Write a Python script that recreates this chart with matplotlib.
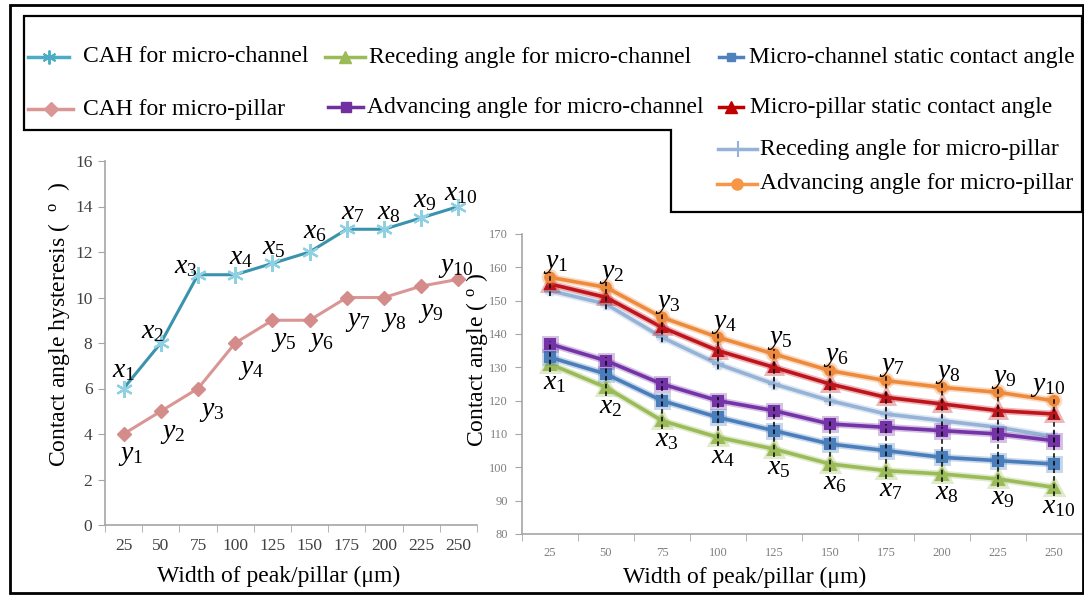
import numpy as np
import matplotlib
matplotlib.use('Agg')
import matplotlib.pyplot as plt
import matplotlib.patheffects as pe
from matplotlib.lines import Line2D
from matplotlib.patches import Polygon, Rectangle
from matplotlib.transforms import Affine2D

plt.rcParams['font.family'] = ['Liberation Serif', 'DejaVu Serif']
plt.rcParams['mathtext.fontset'] = 'custom'
plt.rcParams['mathtext.rm'] = 'Liberation Serif'
plt.rcParams['mathtext.it'] = 'Liberation Serif:italic'

widths = [25, 50, 75, 100, 125, 150, 175, 200, 225, 250]

# contact angle hysteresis (deg)
cah_channel = [6, 8, 11, 11, 11.5, 12, 13, 13, 13.5, 14]
cah_pillar = [4, 5, 6, 8, 9, 9, 10, 10, 10.5, 10.8]

# contact angles (deg)
adv_pillar = [157, 154, 145, 139, 134, 129, 126, 124, 122.5, 120]
static_pillar = [155, 151, 142, 135, 130, 125, 121, 119, 117, 116]
rec_pillar = [153, 149, 139, 131, 125, 120, 116, 114, 112, 109.2]
adv_channel = [137, 132, 125, 120, 117, 113, 112, 111, 110, 108]
static_channel = [133, 128, 120, 115, 111, 107, 105, 103, 102, 101]
rec_channel = [131, 124, 114, 109, 105.5, 101, 99, 98, 96.5, 94]

W, H = 1084, 596
fig = plt.figure(figsize=(W / 100, H / 100), dpi=100)
# pixel coords measured from the top-left corner
T = Affine2D().scale(1 / 100, -1 / 100).translate(0, H / 100) + fig.dpi_scale_trans

def box(x0, y0, x1, y1):
    return [x0 / W, 1 - y1 / H, (x1 - x0) / W, (y1 - y0) / H]

x = np.arange(len(widths))
spine_c = '#A6A6A6'

def style_axes(ax, ylim, yticks, tick_fs, tick_c, ypad):
    ax.set_xlim(-0.5, len(widths) - 0.5)
    ax.set_ylim(*ylim)
    ax.set_yticks(yticks)
    ax.set_xticks(x)
    ax.set_xticklabels([str(w) for w in widths])
    ax.set_xticks(np.arange(-0.5, len(widths)), minor=True)
    ax.tick_params(axis='x', which='major', length=0, pad=9, labelsize=tick_fs, colors=tick_c)
    ax.tick_params(axis='x', which='minor', length=5, color=spine_c, direction='out')
    ax.tick_params(axis='y', length=5, color=spine_c, labelsize=tick_fs, labelcolor=tick_c, pad=ypad)
    for s in ['top', 'right']:
        ax.spines[s].set_visible(False)
    for s in ['left', 'bottom']:
        ax.spines[s].set_color(spine_c)
        ax.spines[s].set_linewidth(1.2)
    ax.patch.set_alpha(0)

lab_fs = 17
note_fs = 20

# ---- left: hysteresis ----
ax1 = fig.add_axes(box(105, 161, 477, 525))
style_axes(ax1, (0, 16), range(0, 17, 2), 12.5, '#404040', 4)
ax1.plot(x, cah_channel, color='#3A93AC', lw=2.2, marker=(6, 2, 0), ms=12,
         mec='#8FD0E2', mew=1.6, zorder=3)
ax1.plot(x, cah_pillar, color='#D99694', lw=2.2, marker='D', ms=7,
         mfc='#D48C8A', mec='#D48C8A', zorder=3)
ax1.set_xlabel('Width of peak/pillar (\u03bcm)', fontsize=lab_fs)
ax1.xaxis.set_label_coords(0.468, -0.112)
ax1.set_ylabel('Contact angle hysteresis (  $^{\\mathrm{o}}$  )', fontsize=lab_fs)
ax1.yaxis.set_label_coords(-0.09, 0.55)

x_off = [(0, 18), (-8, 11), (-12, 8), (6, 17), (1, 16), (5, 20), (6, 17), (5, 17), (4, 17), (2, 13)]
y_off = [(7, -22), (12, -22), (14, -23), (16, -26), (11, -21), (11, -21), (11, -24), (10, -24), (10, -26), (-3, 12)]
for i in range(len(widths)):
    ax1.annotate('$x_{%d}$' % (i + 1), (x[i], cah_channel[i]), xytext=x_off[i],
                 textcoords='offset pixels', ha='center', va='center', fontsize=note_fs)
    ax1.annotate('$y_{%d}$' % (i + 1), (x[i], cah_pillar[i]), xytext=y_off[i],
                 textcoords='offset pixels', ha='center', va='center', fontsize=note_fs)

# ---- right: contact angles ----
ax2 = fig.add_axes(box(522, 234, 1082, 534))
style_axes(ax2, (80, 170), range(80, 171, 10), 9, '#7F7F7F', 5)

# dashed spans between advancing and receding angle
ax2.vlines(x, np.array(rec_pillar) - 1.5, np.array(adv_pillar) + 1.5,
           colors='black', linestyles=(0, (3, 2)), lw=1.1, zorder=5)
ax2.vlines(x, np.array(rec_channel) - 2.5, np.array(adv_channel) + 1,
           colors='black', linestyles=(0, (3, 2)), lw=1.1, zorder=5)

series = [
    (rec_pillar, '#95B3D7', '+', 8),
    (rec_channel, '#9BBB59', '^', 8),
    (static_channel, '#4A7EBB', 's', 7),
    (adv_channel, '#7433A6', 's', 7),
    (static_pillar, '#C0141C', '^', 7),
    (adv_pillar, '#EE8A3C', 'o', 7),
]
for vals, c, m, ms in series:
    ax2.plot(x, vals, color=c, lw=2.6, marker=m, ms=ms, mec=c, mfc=c, mew=1.5, zorder=3,
             path_effects=[pe.Stroke(linewidth=5, foreground=c, alpha=0.3), pe.Normal()])

ax2.set_xlabel('Width of peak/pillar (\u03bcm)', fontsize=lab_fs)
ax2.xaxis.set_label_coords(0.398, -0.108)
ax2.set_ylabel('Contact angle ( $^{\\mathrm{o}}$ )', fontsize=lab_fs)
ax2.yaxis.set_label_coords(-0.058, 0.58)

yr_off = [(6, 14)] * 9 + [(-6, 14)]
for i in range(len(widths)):
    ax2.annotate('$y_{%d}$' % (i + 1), (x[i], adv_pillar[i]), xytext=yr_off[i],
                 textcoords='offset pixels', ha='center', va='center', fontsize=note_fs, zorder=6)
    ax2.annotate('$x_{%d}$' % (i + 1), (x[i], rec_channel[i]), xytext=(5, -19),
                 textcoords='offset pixels', ha='center', va='center', fontsize=note_fs, zorder=6)

# ---- legend, drawn by hand in pixel coords ----
entries = [
    ('CAH for micro-channel', 28, 69, 83, 57, dict(color='#4BACC6', marker=(6, 2, 0), ms=10, mec='#4BACC6', mew=1.4)),
    ('CAH for micro-pillar', 28, 73, 83, 109, dict(color='#D99694', marker='D', ms=7, mfc='#D99694', mec='#D99694')),
    ('Receding angle for micro-channel', 325, 365, 369, 57, dict(color='#9BBB59', marker='^', ms=8, mfc='#9BBB59', mec='#9BBB59')),
    ('Advancing angle for micro-channel', 328, 363, 367, 107, dict(color='#7030A0', marker='s', ms=7, mfc='#7030A0', mec='#7030A0')),
    ('Micro-channel static contact angle', 719, 743, 749, 57, dict(color='#4F81BD', marker='s', ms=6, mfc='#4F81BD', mec='#4F81BD')),
    ('Micro-pillar static contact angle', 719, 743, 750, 107, dict(color='#C00000', marker='^', ms=8, mfc='#C00000', mec='#C00000')),
    ('Receding angle for micro-pillar', 718, 757, 760, 149, dict(color='#95B3D7', marker='+', ms=11, mec='#95B3D7', mew=1.5)),
    ('Advancing angle for micro-pillar', 717, 757, 760, 184, dict(color='#F79646', marker='o', ms=8, mfc='#F79646', mec='#F79646')),
]
for label, hx0, hx1, tx, ty, st in entries:
    kw = dict(st)
    c = kw.pop('color')
    fig.add_artist(Line2D([hx0, hx1], [ty, ty], transform=T, color=c, lw=2.5))
    fig.add_artist(Line2D([(hx0 + hx1) / 2], [ty], transform=T, ls='none', **kw))
    fig.text(tx, ty, label, transform=T, fontsize=17, ha='left', va='center')

fig.add_artist(Polygon([(24, 16), (1082, 16), (1082, 212), (671, 212), (671, 130), (24, 130)],
                       closed=True, fill=False, ec='black', lw=1.6, transform=T))
fig.add_artist(Rectangle((10, 5), 1073, 588, fill=False, ec='black', lw=2, transform=T))

fig.savefig('out.png', dpi=100)
